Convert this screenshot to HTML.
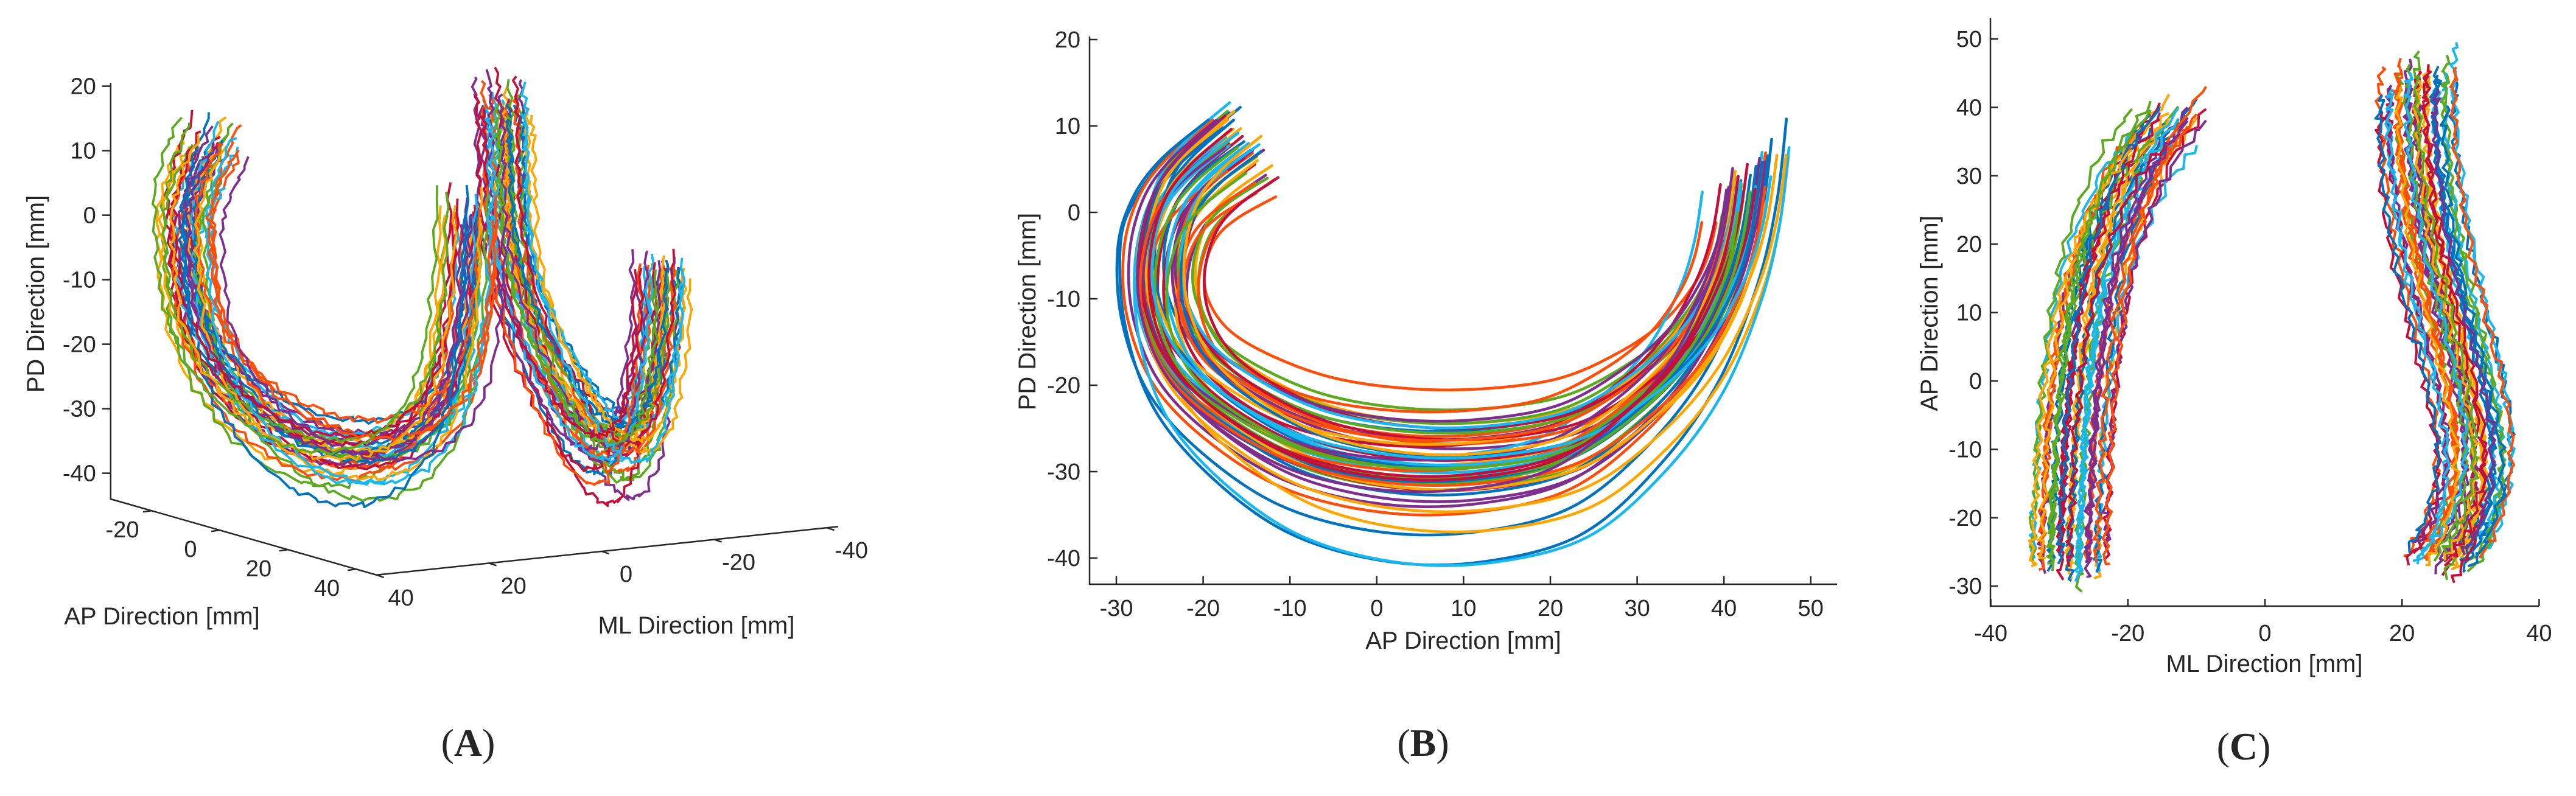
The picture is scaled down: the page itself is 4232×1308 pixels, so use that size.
<!DOCTYPE html>
<html><head><meta charset="utf-8"><style>
html,body{margin:0;padding:0;background:#fff;}
svg{display:block;}
text{font-family:"Liberation Sans",sans-serif;fill:#262626;}
</style></head><body>
<svg id="fig" width="4232" height="1308" viewBox="0 0 4232 1308" xmlns="http://www.w3.org/2000/svg">
<g id="pA"></g>
<g id="pB"></g>
<g id="pC"></g>
<g id="txt">
<text x="0" y="0" font-size="40" text-anchor="middle" transform="translate(72,483) rotate(-90)">PD Direction [mm]</text>
<text x="266" y="1026" font-size="40" text-anchor="middle">AP Direction [mm]</text>
<text x="1144" y="1041" font-size="40" text-anchor="middle">ML Direction [mm]</text>
<text x="769" y="1242" font-size="64" text-anchor="middle" style="font-family:'Liberation Serif',serif">(<tspan font-weight="bold">A</tspan>)</text>
<text x="2404" y="1066" font-size="40" text-anchor="middle">AP Direction [mm]</text>
<text x="0" y="0" font-size="40" text-anchor="middle" transform="translate(1701,512) rotate(-90)">PD Direction [mm]</text>
<text x="2338" y="1242" font-size="64" text-anchor="middle" style="font-family:'Liberation Serif',serif">(<tspan font-weight="bold">B</tspan>)</text>
<text x="3720" y="1104" font-size="40" text-anchor="middle">ML Direction [mm]</text>
<text x="0" y="0" font-size="40" text-anchor="middle" transform="translate(3183,515) rotate(-90)">AP Direction [mm]</text>
<text x="3686" y="1248" font-size="64" text-anchor="middle" style="font-family:'Liberation Serif',serif">(<tspan font-weight="bold">C</tspan>)</text>
</g>
</svg>
<script>
// ---------- data ----------
const colors = ["#0072BD","#FF4E0A","#FFA600","#7E2F8E","#5DAA20","#18B8EE","#C2103A"];
// Panel B base trajectory (AP, PD)
const bAP = [-16,-21,-24,-25.5,-25,-22,-16,-8,2,12,22,30,36,40,42,43];
const bPD = [8,4,0,-6,-12,-18,-23,-27,-29,-29,-27,-22,-16,-9,-3,3];
const bSX = [1.12,0.86,1.0,0.95,1.05,0.9,1.02,0.97,1.08,0.92,1.0,0.88,1.04,0.96,1.1,0.93,0.99,1.06,0.9,1.01,0.97,1.03,0.87,1.07,0.94,1.0,1.1,0.96,1.02,0.91,0.98,1.05,0.95,1.0,0.89,1.04,0.97,1.09,0.93,1.01,0.99,0.96,1.03,0.92,1.06,0.98,1.0,0.94,1.02,0.97,1.05,0.93,1.0,0.96,1.04,0.99];
const bSY = [1.6,0.6,1.0,0.85,1.2,0.95,1.1,0.9,1.3,0.8,1.05,0.75,1.15,0.92,1.42,0.88,1.0,1.25,0.72,1.08,0.96,1.12,0.68,1.35,0.9,1.02,1.5,0.94,1.18,0.82,0.98,1.22,0.86,1.04,0.78,1.14,0.93,1.28,0.84,1.06,1.0,0.9,1.1,0.8,1.2,0.97,1.03,0.88,1.12,0.95,1.07,0.99,1.16,0.92,1.01,1.09];
const bDX = [0,1,-1,2,0,-2,1,0,-1,2,-2,1,0,1,-1,0,2,-1,1,-2,0,1,-1,2,0,-1,1,-2,0,2,-1,0,1,-1,2,0,-2,1,0,-1,1,2,-1,0,1,-2,0,1,-1,2,0,1,-2,0,1,-1];
const bDY = [0,1,0,-1,1,0,-1,2,0,1,-1,0,2,-1,0,1,-2,0,1,0,-1,2,0,-1,1,0,-2,1,0,-1,2,0,1,-1,0,1,-2,0,2,-1,0,1,0,-1,1,0,-1,2,1,0,-1,1,0,-2,1,0];
// Panel A base 3D trajectories (AP, ML, PD)
const latAP = [-18,-23,-26,-27,-25,-20,-12,-2,8,18,27,35,40,43,44];
const latML = [30,30,30,29,29,28,27,26,25,24,23,22,22,22,22];
const latPD = [12,6,0,-8,-16,-23,-28,-31,-32,-31,-28,-22,-14,-3,10];
const medAP = [-16,-22,-25,-26,-23,-17,-8,2,12,22,30,36,40,42];
const medML = [-20,-24,-26,-27,-27,-27,-26,-24,-22,-19,-17,-15,-14,-13];
const medPD = [14,8,0,-8,-16,-24,-30,-34,-35,-33,-28,-21,-12,-2];
const aSP = [1.0,0.9,1.1,0.95,1.05,0.85,1.15,0.92,1.0,1.08,0.88,1.2,0.97,1.03,0.9,1.12,0.95,1.0,1.25,0.93,1.06,0.87,1.1,0.98,1.02,0.91,1.18,0.96,1.04,0.89,1.08,1.0,0.94,1.14,0.99,1.3,0.92,1.05,0.97,1.1];
const aDAP = [0,4,-4,2,-2,6,-6,0,4,-2,2,-4,0,6,-2,4,-6,2,0,-4,4,-2,2,0,-6,4,-2,0,2,-4,6,0,-2,4,-4,2,3,-3,5,-5];
const aDML = [1,-2,3,0,-3,2,0,-1,4,-3,0,2,-4,3,0,-2,1,3,-3,0,2,-1,4,0,-3,1,-2,3,0,-4,2,0,3,-1,0,2,-2,1,-3,3];
const aDPD = [0,1,-1,2,0,-2,1,0,-1,2,1,-1,0,2,-2,1,0,-1,-2,1,0,2,-1,0,1,-2,-1,1,0,2,-1,0,1,-1,2,-1,1,0,-1,2];
// Panel C base bands (ML, AP)
const cMedAP = [-27,-22,-15,-8,0,8,16,24,32,38];
const cMedML = [-28.5,-28.5,-28,-27.7,-27,-26,-24.5,-22,-18.5,-14];
const cLatAP = [-26,-22,-15,-8,0,8,16,24,32,40,44];
const cLatML = [26,28.5,30.5,30.5,29,27,25,23.5,22.5,22,22.5];
const cDML = [0,-3,3,-1,1,-4,4,-2,2,0,-3,1,3,-1,-2,2,0,4,-4,1,-1,3,-3,0,2,-2,1,-1,0,3,-3,2,-2,1,0,-1,4,-4,2,-2];
const cDAP = [0,1,-1,2,-2,0,1,-1,0,2,-1,1,-2,0,1,0,-1,2,1,-2,0,1,-1,0,2,-1,0,1,-2,1,0,-1,2,0,-1,1,2,-2,0,1];
const cSAP = [1.0,0.96,1.04,0.98,1.06,0.95,1.02,1.0,0.97,1.05,0.99,1.03,0.96,1.07,1.0,0.98,1.04,0.95,1.02,1.0,0.97,1.06,0.99,1.03,1.0,0.96,1.05,0.98,1.02,1.0,0.97,1.04,0.99,1.01,0.96,1.03,1.08,0.94,1.0,1.05];
const wig = [0.3,-0.5,0.8,-0.2,-0.7,0.5,0.1,-0.9,0.6,-0.3,0.9,-0.6,0.2,0.4,-0.8,0.7,-0.1,-0.4,0.5,-0.7,0.8,0.0,-0.5,0.3,0.6,-0.9,0.4,-0.2,0.7,-0.6,0.1,0.9,-0.3,-0.8,0.2,0.5,-0.4,0.8,-0.1,-0.6,0.3,0.7,-0.7,0.0,0.6,-0.5,0.4,-0.2,0.9,-0.8];
const bXTicks = [-30,-20,-10,0,10,20,30,40,50];
const bYTicks = [-40,-30,-20,-10,0,10,20];
const cXTicks = [-40,-20,0,20,40];
const cYTicks = [-30,-20,-10,0,10,20,30,40,50];
const aPDTicks = [-40,-30,-20,-10,0,10,20];
const aAPTicks = [-20,0,20,40];
const aMLTicks = [40,20,0,-20,-40];

// ---------- helpers ----------
const NS = "http://www.w3.org/2000/svg";
function mk(tag, parent, attrs){
  const e = document.createElementNS(NS, tag);
  for (const k in attrs) e.setAttribute(k, attrs[k]);
  parent.appendChild(e); return e;
}
function crPath(p){
  let d = "M" + p[0][0].toFixed(1) + "," + p[0][1].toFixed(1);
  for (let i = 0; i < p.length - 1; i++){
    const p0 = p[i-1] || p[i], p1 = p[i], p2 = p[i+1], p3 = p[i+2] || p[i+1];
    const c1x = p1[0] + (p2[0]-p0[0])/6, c1y = p1[1] + (p2[1]-p0[1])/6;
    const c2x = p2[0] - (p3[0]-p1[0])/6, c2y = p2[1] - (p3[1]-p1[1])/6;
    d += " C" + c1x.toFixed(1) + "," + c1y.toFixed(1) + " " + c2x.toFixed(1) + "," + c2y.toFixed(1) + " " + p2[0].toFixed(1) + "," + p2[1].toFixed(1);
  }
  return d;
}
function jitterPolyline(p, k, amp){
  const out = [];
  for (let i = 0; i < p.length - 1; i++){
    for (let s = 0; s < 6; s++){
      const t = s/6;
      const x = p[i][0] + (p[i+1][0]-p[i][0])*t;
      const y = p[i][1] + (p[i+1][1]-p[i][1])*t;
      const w = wig[(k*7 + i*6 + s) % wig.length];
      const w2 = wig[(k*3 + i*6 + s + 11) % wig.length];
      out.push([x + w*amp, y + w2*amp]);
    }
  }
  out.push(p[p.length-1]);
  let d = "M" + out[0][0].toFixed(1) + "," + out[0][1].toFixed(1);
  for (let i = 1; i < out.length; i++) d += " L" + out[i][0].toFixed(1) + "," + out[i][1].toFixed(1);
  return d;
}
const AX = "#262626";

// ---------- Panel B ----------
(function(){
  const g = document.getElementById("pB");
  const bx = v => 1834 + (v + 30) * 14.26;
  const by = v => 917 - (v + 40) * 14.2;
  const gl = mk("g", g, {});
  
  
  for (let k = 0; k < bSX.length; k++){
    const pts = bAP.map((a, i) => [bx(8 + (a-8)*bSX[k] + bDX[k]), by(-10 + (bPD[i]+10)*(i < 3 ? Math.min(bSY[k],1.15) : bSY[k]) + bDY[k])]);
    const path = mk("path", gl, {d: crPath(pts), fill: "none", stroke: colors[k % 7], "stroke-width": 4.6, "stroke-linecap": "round"});
    
    
  }
  const ax = mk("path", g, {d: "M1790,60 L1790,960 L3018,960", fill: "none", stroke: AX, "stroke-width": 2.5});
  
  
  bXTicks.forEach(v => {
    const t = mk("line", g, {x1: bx(v), x2: bx(v), y1: 960, y2: 947, stroke: AX, "stroke-width": 2.5});
    
    
    const l = mk("text", g, {x: bx(v), y: 1012, "font-size": 38, "text-anchor": "middle"});
    l.textContent = v;
    
    
  });
  bYTicks.forEach(v => {
    const t = mk("line", g, {x1: 1790, x2: 1803, y1: by(v), y2: by(v), stroke: AX, "stroke-width": 2.5});
    
    
    const l = mk("text", g, {x: 1775, y: by(v) + 13, "font-size": 38, "text-anchor": "end"});
    l.textContent = v;
    
    
  });
})();

// ---------- Panel C ----------
(function(){
  const g = document.getElementById("pC");
  const cx = v => 3721 + v * 11.26;
  const cy = v => 626 - v * 11.24;
  const gl = mk("g", g, {});
  
  
  for (let k = 0; k < cDML.length; k++){
    const pm = cMedAP.map((a, i) => [cx(cMedML[i] + cDML[k]*1.35), cy(a*cSAP[k] + cDAP[k])]);
    const p1 = mk("path", gl, {d: jitterPolyline(pm, k, 7), fill: "none", stroke: colors[k % 7], "stroke-width": 4, "stroke-linejoin": "round"});
    
    
    const kk = (k + 13) % cDML.length;
    const pl = cLatAP.map((a, i) => [cx(cLatML[i] + cDML[kk]*1.35), cy(a*cSAP[kk] + cDAP[kk])]);
    const p2 = mk("path", gl, {d: jitterPolyline(pl, kk + 5, 7), fill: "none", stroke: colors[(k + 3) % 7], "stroke-width": 4, "stroke-linejoin": "round"});
    
    
  }
  const ax = mk("path", g, {d: "M3270,30 L3270,996 L4171,996", fill: "none", stroke: AX, "stroke-width": 2.5});
  
  
  cXTicks.forEach(v => {
    const t = mk("line", g, {x1: cx(v), x2: cx(v), y1: 996, y2: 984, stroke: AX, "stroke-width": 2.5});
    
    
    const l = mk("text", g, {x: cx(v), y: 1053, "font-size": 38, "text-anchor": "middle"});
    l.textContent = v;
    
    
  });
  cYTicks.forEach(v => {
    const t = mk("line", g, {x1: 3270, x2: 3282, y1: cy(v), y2: cy(v), stroke: AX, "stroke-width": 2.5});
    
    
    const l = mk("text", g, {x: 3256, y: cy(v) + 13, "font-size": 38, "text-anchor": "end"});
    l.textContent = v;
    
    
  });
})();

// ---------- Panel A (3D projection) ----------
(function(){
  const g = document.getElementById("pA");
  const P = (ap, ml, pd) => [731 + ap*5.6 - ml*9.25, 366 + ap*1.6 + ml*0.97 - pd*10.6];
  const gl = mk("g", g, {});
  
  
  for (let k = 0; k < aSP.length; k++){
    const kk = (k + 17) % aSP.length;
    const pm = medAP.map((a, i) => P(a + aDAP[kk]*0.7, medML[i] + aDML[kk], -10 + (medPD[i] + 10)*aSP[kk] + aDPD[kk]));
    const p1 = mk("path", gl, {d: jitterPolyline(pm, kk, 5), fill: "none", stroke: colors[(k + 2) % 7], "stroke-width": 3.8, "stroke-linejoin": "round"});
    
    
  }
  for (let k = 0; k < aSP.length; k++){
    const pl = latAP.map((a, i) => P(a + aDAP[k], latML[i] + aDML[k], -10 + (latPD[i] + 10)*aSP[k] + aDPD[k]));
    const p2 = mk("path", gl, {d: jitterPolyline(pl, k, 5), fill: "none", stroke: colors[k % 7], "stroke-width": 3.8, "stroke-linejoin": "round"});
    
    
  }
  const c0 = P(-32, 40, -44), c1 = P(-32, 40, 20.5), c2 = P(46, 40, -44), c3 = P(46, -42, -44);
  const ax = mk("path", g, {d: `M${c1[0]},${c1[1]} L${c0[0]},${c0[1]} L${c2[0]},${c2[1]} L${c3[0]},${c3[1]}`, fill: "none", stroke: AX, "stroke-width": 2.5});
  
  
  aPDTicks.forEach(v => {
    const p = P(-32, 40, v);
    const t = mk("line", g, {x1: p[0], x2: p[0] - 14, y1: p[1], y2: p[1], stroke: AX, "stroke-width": 2.5});
    
    
    const l = mk("text", g, {x: p[0] - 24, y: p[1] + 13, "font-size": 38, "text-anchor": "end"});
    l.textContent = v;
    
    
  });
  aAPTicks.forEach(v => {
    const p = P(v, 40, -44);
    const t = mk("line", g, {x1: p[0], x2: p[0] - 14, y1: p[1], y2: p[1] + 2, stroke: AX, "stroke-width": 2.5});
    
    
    const l = mk("text", g, {x: p[0] - 48, y: p[1] + 44, "font-size": 38, "text-anchor": "middle"});
    l.textContent = v;
    
    
  });
  aMLTicks.forEach(v => {
    const p = P(46, v, -44);
    const t = mk("line", g, {x1: p[0], x2: p[0] + 12, y1: p[1], y2: p[1] + 4, stroke: AX, "stroke-width": 2.5});
    
    
    const l = mk("text", g, {x: p[0] + 40, y: p[1] + 50, "font-size": 38, "text-anchor": "middle"});
    l.textContent = v;
    
    
  });
})();
</script>
</body></html>
